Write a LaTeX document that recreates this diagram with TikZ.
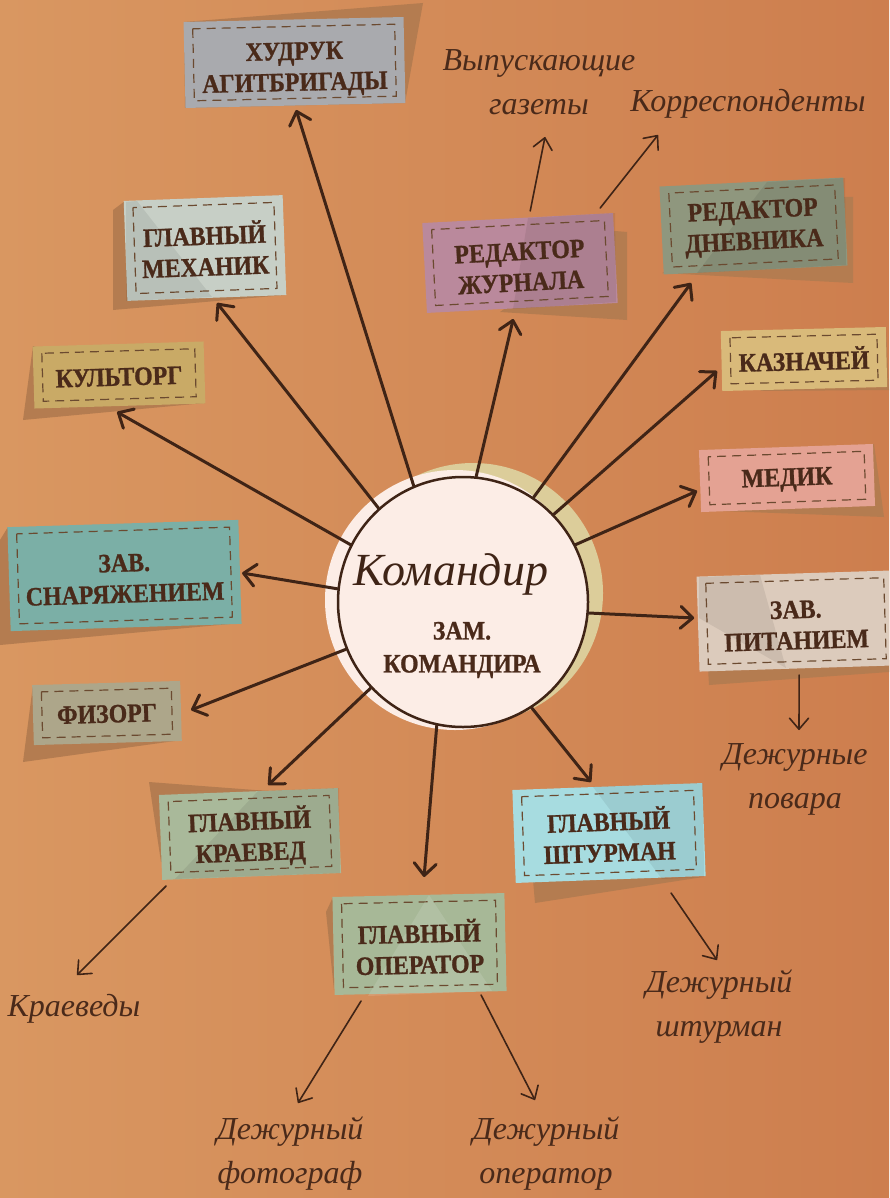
\documentclass[tikz,border=0pt]{standalone}
\usepackage{fontspec}
\setmainfont{Liberation Serif}
\newfontfamily\typew{Liberation Serif}[FakeStretch=0.9, BoldFeatures={FakeBold=1}]
\newfontfamily\hand{Liberation Serif}
\usetikzlibrary{arrows.meta,calc}
\definecolor{ink}{HTML}{3F2416}
\definecolor{txt}{HTML}{4A2A1A}
\definecolor{shad}{HTML}{B47C50}
\definecolor{dashcol}{HTML}{6B4A30}
\definecolor{bgl}{HTML}{D99761}
\definecolor{bgr}{HTML}{CD7E4E}
\definecolor{tanc}{HTML}{DCCD9A}
\definecolor{pinkc}{HTML}{FCEDE6}
\definecolor{cHud}{HTML}{A9AAAE}
\definecolor{cMech}{HTML}{C7CFC6}
\definecolor{cKult}{HTML}{C9AA66}
\definecolor{cSnar}{HTML}{7BAFA6}
\definecolor{cFiz}{HTML}{ADA68A}
\definecolor{cKrv}{HTML}{A9B99A}
\definecolor{cOper}{HTML}{A7B897}
\definecolor{cSht}{HTML}{A7DCE0}
\definecolor{cPit}{HTML}{DCCBBC}
\definecolor{cMed}{HTML}{E4A293}
\definecolor{cKaz}{HTML}{D9BA7A}
\definecolor{cDnev}{HTML}{8F977E}
\definecolor{cJur}{HTML}{BA899C}
\tikzset{
  notetxt/.style={font=\typew\bfseries\fontsize{26.5}{31}\selectfont, text=txt, align=center, inner sep=0pt},
  handtxt/.style={font=\hand\itshape\fontsize{32}{44}\selectfont, text=txt, align=center, inner sep=0pt},
  bigarrow/.style={draw=ink, line width=3pt, line cap=round, -{Straight Barb[length=12pt,width=22pt,round]}},
  thinarrow/.style={draw=ink, line width=1.6pt, line cap=round, -{Straight Barb[length=11pt,width=19pt,round]}},
  dashbox/.style={draw=dashcol, line width=1.2pt, dash pattern=on 9pt off 6pt},
  darkside/.style={fill=black, fill opacity=0.07},
  lightside/.style={fill=white, fill opacity=0.12},
}
% paper of a note: name, cx, cy, w, h, angle, colour
\newcommand{\sticky}[7]{%
  \begin{scope}[shift={(#2,#3)}, rotate=#6]
    \fill[#7] (-#4/2,-#5/2) rectangle (#4/2,#5/2);
  \end{scope}}
% dashes and text of a note: name, cx, cy, w, h, angle, text offset, text
\newcommand{\stickytop}[8]{%
  \begin{scope}[shift={(#2,#3)}, rotate=#6]
    \draw[dashbox] (-#4/2+9,-#5/2+7) rectangle (#4/2-9,#5/2-7);
    \node[notetxt, transform shape, minimum width=#4pt, minimum height=#5pt] (#1) at (0,#7) {#8};
  \end{scope}}
\begin{document}
\begin{tikzpicture}[x=1pt,y=-1pt]
\useasboundingbox (0,0) rectangle (889,1198);
\clip (0,0) rectangle (889,1198);
\shade[left color=bgl, right color=bgr] (0,0) rectangle (889,1198);

% shadows
\fill[shad] (184,22) -- (423,3) -- (405,103) -- (185,108) -- cycle;
\fill[shad] (125,201) -- (113,210) -- (113,310) -- (285,295) -- cycle;
\fill[shad] (33,346) -- (23,420) -- (205,403) -- cycle;
\fill[shad] (8,527) -- (0,540) -- (0,645) -- (241,623) -- cycle;
\fill[shad] (33,685) -- (23,762) -- (182,740) -- cycle;
\fill[shad] (149,782) -- (268,791) -- (161,862) -- cycle;
\fill[shad] (333,897) -- (326,912) -- (334,990) -- cycle;
\fill[shad] (533,880) -- (535,903) -- (703,877) -- cycle;
\fill[shad] (708,668) -- (709,685) -- (889,672) -- (889,660) -- cycle;
\fill[shad] (874,444) -- (884,517) -- (720,511) -- cycle;
\fill[shad] (886,327) -- (889,390) -- (760,391) -- cycle;
\fill[shad] (845,197) -- (853,197) -- (853,283) -- (662,273) -- cycle;
\fill[shad] (615,231) -- (627,232) -- (627,320) -- (500,312) -- cycle;

% note papers
\sticky{hudruk}{294.5}{62.5}{220}{86}{1.3}{cHud}
\sticky{mech}{205}{248}{159}{100}{2.1}{cMech}
\sticky{kult}{119}{375}{171}{62}{1.7}{cKult}
\sticky{snar}{124.5}{575.5}{231}{104}{1.8}{cSnar}
\sticky{fiz}{107}{713}{148}{60}{1.6}{cFiz}
\sticky{krv}{250}{834}{179}{85}{2.2}{cKrv}
\sticky{oper}{419.5}{944}{172}{98}{1.3}{cOper}
\sticky{shturm}{609}{833}{190}{93}{2.1}{cSht}
\sticky{pit}{796}{621}{196}{95}{1.8}{cPit}
\sticky{medik}{787}{478}{174}{62}{2}{cMed}
\sticky{kazn}{804}{359}{165}{60}{1.4}{cKaz}
\sticky{dnev}{753.5}{226}{184}{88}{2.8}{cDnev}
\sticky{jur}{520}{263}{191}{90}{3}{cJur}

% subtle folds on the papers
\fill[darkside] (126,202) -- (137,201) -- (212,297) -- (126,301) -- cycle;
\fill[darkside] (528,218) -- (615,213) -- (616,302) -- (513,309) -- cycle;
\fill[darkside] (767,182) -- (845,178) -- (846,265) -- (697,273) -- cycle;
\fill[darkside] (593,787) -- (703,783) -- (704,877) -- (662,879) -- cycle;
\fill[lightside] (429,895) -- (368,996) -- (492,991) -- cycle;
\fill[darkside] (699,577) -- (760,575) -- (786,668) -- (699,618) -- cycle;
\fill[darkside] (258,791) -- (339,788) -- (340,873) -- (175,879) -- cycle;

% note texts
\stickytop{hudruk}{294.5}{62.5}{220}{86}{1.3}{7}{ХУДРУК\\АГИТБРИГАДЫ}
\stickytop{mech}{205}{248}{159}{100}{2.1}{1}{ГЛАВНЫЙ\\МЕХАНИК}
\stickytop{kult}{119}{375}{171}{62}{1.7}{2}{КУЛЬТОРГ}
\stickytop{snar}{124.5}{575.5}{231}{104}{1.8}{3}{ЗАВ.\\СНАРЯЖЕНИЕМ}
\stickytop{fiz}{107}{713}{148}{60}{1.6}{1}{ФИЗОРГ}
\stickytop{krv}{250}{834}{179}{85}{2.2}{3}{ГЛАВНЫЙ\\КРАЕВЕД}
\stickytop{oper}{419.5}{944}{172}{98}{1.3}{3}{ГЛАВНЫЙ\\ОПЕРАТОР}
\stickytop{shturm}{609}{833}{190}{93}{2.1}{2}{ГЛАВНЫЙ\\ШТУРМАН}
\stickytop{pit}{796}{621}{196}{95}{1.8}{4}{ЗАВ.\\ПИТАНИЕМ}
\stickytop{medik}{787}{478}{174}{62}{2}{2}{МЕДИК}
\stickytop{kazn}{804}{359}{165}{60}{1.4}{0}{КАЗНАЧЕЙ}
\stickytop{dnev}{753.5}{226}{184}{88}{2.8}{2}{РЕДАКТОР\\ДНЕВНИКА}
\stickytop{jur}{520}{263}{191}{90}{3}{4}{РЕДАКТОР\\ЖУРНАЛА}

% central circle
\fill[tanc] (473,593) circle[radius=130];
\fill[pinkc] (455,600) circle[radius=130];
\node[circle, draw=ink, line width=2.5pt, fill=pinkc, minimum size=250pt, inner sep=0pt] (cmd) at (463,602) {};
\node[font=\hand\itshape\fontsize{46}{48}\selectfont, text=ink, inner sep=0pt] (cmdname) at (451,574) {Командир};
\node[notetxt, font=\typew\bfseries\fontsize{26.5}{33}\selectfont] (zam) at (462,650) {ЗАМ.\\КОМАНДИРА};

% handwritten labels
\node[handtxt] (vyp) at (539,82) {Выпускающие\\газеты};
\node[handtxt] (korr) at (748,104) {Корреспонденты};
\node[handtxt] (povara) at (795,779) {Дежурные\\повара};
\node[handtxt] (kraevedy) at (74,1009) {Краеведы};
\node[handtxt] (foto) at (290,1154) {Дежурный\\фотограф};
\node[handtxt] (operL) at (546,1154) {Дежурный\\оператор};
\node[handtxt] (shturmL) at (719,1007) {Дежурный\\штурман};

% thick arrows
\draw[bigarrow] (cmd.113.5) -- ($(hudruk)+(1.5,40.5)$);
\draw[bigarrow] (cmd.132.7) -- ($(mech)+(12,54)$);
\draw[bigarrow] (cmd.153.2) -- ($(kult)+(-2,35)$);
\draw[bigarrow] (cmd.174.6) -- ($(snar)+(117.5,-5.5)$);
\draw[bigarrow] (cmd.202.9) -- ($(fiz)+(84,-4)$);
\draw[bigarrow] (cmd.223) -- ($(krv)+(18,-52)$);
\draw[bigarrow] (cmd.258.3) -- ($(oper)+(4.5,-70)$);
\draw[bigarrow] (cmd.303.4) -- ($(shturm)+(-18,-53)$);
\draw[bigarrow] (cmd.355) -- ($(pit)+(-102,-7)$);
\draw[bigarrow] (cmd.27.2) -- ($(medik)+(-90,11)$);
\draw[bigarrow] (cmd.44.4) -- ($(kazn)+(-87,12)$);
\draw[bigarrow] (cmd.56.8) -- ($(dnev)+(-62.5,55)$);
\draw[bigarrow] (cmd.84) -- ($(jur)+(-7,52)$);

% thin arrows
\draw[thinarrow] ($(jur)+(10,-56)$) -- ($(vyp)+(6,55)$);
\draw[thinarrow] ($(jur)+(80,-59)$) -- ($(korr)+(-90,31)$);
\draw[thinarrow] ($(pit)+(3,50)$) -- ($(povara)+(4,-49)$);
\draw[thinarrow] ($(shturm)+(62,58)$) -- ($(shturmL)+(-2,-47)$);
\draw[thinarrow] ($(krv)+(-84,49)$) -- ($(kraevedy)+(3,-34)$);
\draw[thinarrow] ($(oper)+(-58.5,54)$) -- ($(foto)+(8,-51)$);
\draw[thinarrow] ($(oper)+(61.5,48)$) -- ($(operL)+(-11,-54)$);
\end{tikzpicture}
\end{document}
